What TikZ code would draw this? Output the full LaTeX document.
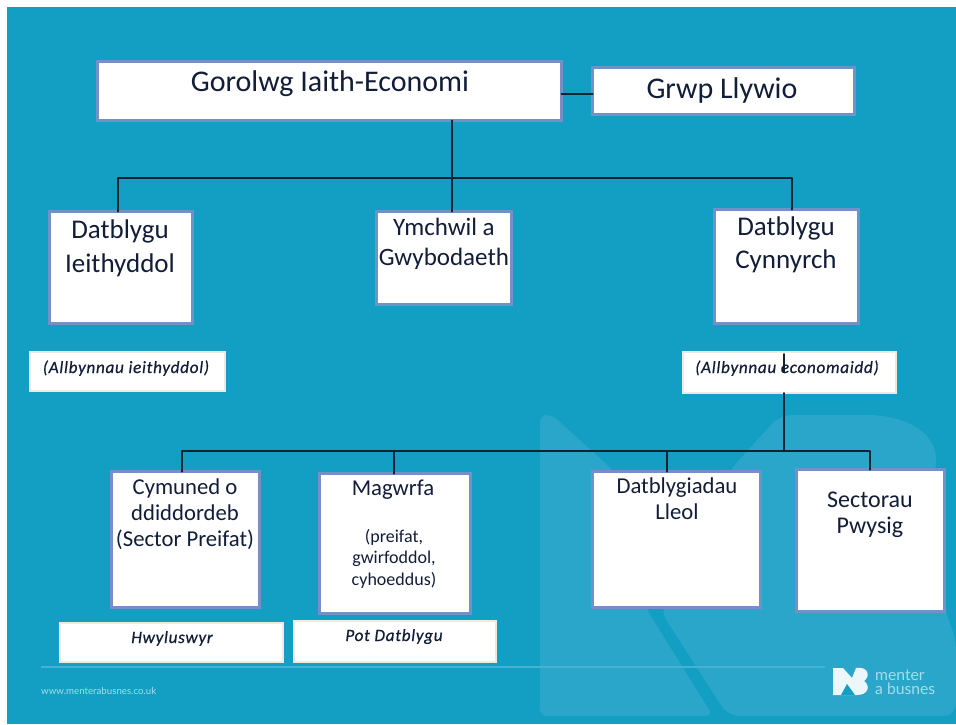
\documentclass[tikz,border=0pt]{standalone}
\usepackage{fontspec}
\setmainfont{Carlito}
\newfontfamily\footfont{Lato}
\definecolor{bgblue}{HTML}{129FC3}
\definecolor{wmark}{HTML}{29A6C9}
\definecolor{rule}{HTML}{45B2D1}
\definecolor{edgeblue}{HTML}{7490C8}
\definecolor{ink}{HTML}{121D38}
\definecolor{conn}{HTML}{0B2632}
\definecolor{cream}{HTML}{EFEADC}
\definecolor{foot}{HTML}{A9DCEA}
\tikzset{
  bluebox/.style={draw=edgeblue,line width=3.4pt,fill=white,inner sep=0pt,outer sep=0pt},
  creambox/.style={draw=cream,line width=2.5pt,fill=white,inner sep=0pt,outer sep=0pt},
  lineconn/.style={draw=conn,line width=2pt,line cap=round,line join=round},
  bigtext/.style={text=ink,inner sep=0pt,align=center,anchor=base,font=\fontsize{30}{33}\selectfont},
  midtext/.style={text=ink,inner sep=0pt,align=center,anchor=base,font=\fontsize{25}{30}\selectfont},
  smalltext/.style={text=ink,inner sep=0pt,align=center,anchor=base,font=\fontsize{22.7}{26}\selectfont},
  tinytext/.style={text=ink,inner sep=0pt,align=center,anchor=base,font=\fontsize{18}{21.5}\selectfont},
  notetext/.style={text=ink,inner sep=0pt,anchor=base,font=\fontsize{17.2}{20}\selectfont\itshape\addfontfeature{LetterSpace=4,FakeBold=0.5}},
  foottext/.style={text=foot,inner sep=0pt,anchor=base west},
}
\newcommand{\boxat}[6]{%
  \pgfmathsetmacro{\bw}{#4-#2}\pgfmathsetmacro{\bh}{#5-#3}%
  \pgfmathsetmacro{\bcx}{(#4+#2)/2}\pgfmathsetmacro{\bcy}{(#5+#3)/2}%
  \node[#6,minimum width=\bw pt,minimum height=\bh pt] (#1) at (\bcx,\bcy) {};}
\begin{document}
\begin{tikzpicture}[x=1pt,y=-1pt]
\useasboundingbox (0,0) rectangle (956,724);
\fill[white] (0,0) rectangle (956,724);
\fill[bgblue] (7,7) rectangle (956,724);
% watermark
\fill[wmark,rounded corners=7pt] (540,716) -- (540,415) -- (552,415) -- (613,470) -- (647,610) -- (713,716) -- cycle;
\fill[wmark,rounded corners=12pt] (660,610) -- (730,470) -- (780,415) -- (880,415) .. controls (925,425) and (936,445) .. (936,470) -- (920,540) -- (956,640) -- (956,716) -- (728,716) -- cycle;
% footer
\draw[rule,line width=1.6pt] (41,667) -- (825,667);
\node[foottext,font=\footfont\fontsize{9.7}{10}\selectfont] (url) at (41,694) {www.menterabusnes.co.uk};
\fill[white!92!bgblue] (833,668) -- (843,668) -- (852,678) -- (856,668) .. controls (868,666) and (871,676) .. (864,681) .. controls (871,686) and (868,695) .. (857,695) -- (833,695) -- cycle;
\fill[bgblue] (841,695) -- (847,684) -- (855,695) -- cycle;
\node[foottext,align=left,font=\footfont\fontsize{15.7}{14}\selectfont] (mb) at (875,694) {menter\\a busnes};
% boxes
\boxat{main}{97.5}{61.5}{561.5}{120.5}{bluebox}
\boxat{grwp}{592.5}{67.5}{854.5}{114.5}{bluebox}
\boxat{datI}{49.5}{211.5}{192.5}{323.5}{bluebox}
\boxat{ymch}{376.5}{211.5}{511.5}{304.5}{bluebox}
\boxat{datC}{714.5}{209.5}{858.5}{323.5}{bluebox}
\boxat{noteI}{30}{352}{225}{391}{creambox}
\boxat{noteE}{683}{352}{896}{393}{creambox}
\boxat{cymu}{111.5}{471.5}{259.5}{607.5}{bluebox}
\boxat{magw}{319.5}{473.5}{470.5}{613.5}{bluebox}
\boxat{datL}{592.5}{471.5}{760.5}{607.5}{bluebox}
\boxat{sect}{796.5}{469.5}{944.5}{611.5}{bluebox}
\boxat{hwyl}{60}{623}{283}{662}{creambox}
\boxat{potd}{294}{621}{496}{662}{creambox}
% connectors
\coordinate (toprow) at (452,178);
\coordinate (t1) at (118,178);
\coordinate (t3) at (792,178);
\coordinate (sidel) at (0,94);
\coordinate (low) at (784,451);
\coordinate (l1) at (182,451);
\coordinate (l2) at (394,451);
\coordinate (l3) at (667,451);
\coordinate (l4) at (870,451);
\coordinate (tick) at (784,372);
\draw[lineconn] (main.east |- sidel) -- (grwp.west |- sidel);
\draw[lineconn] (main.south -| toprow) -- (ymch.north -| toprow);
\draw[lineconn] (datI.north -| t1) -- (t1) -- (t3) -- (datC.north -| t3);
\draw[lineconn] (noteE.south -| low) -- (low);
\draw[lineconn] (noteE.north -| tick) ++(0,2) -- (tick);
\draw[lineconn] (cymu.north -| l1) -- (l1) -- (l4) -- (sect.north -| l4);
\draw[lineconn] (magw.north -| l2) -- (l2);
\draw[lineconn] (datL.north -| l3) -- (l3);
% labels
\node[bigtext] (tMain) at (330,91) {Gorolwg Iaith-Economi};
\node[bigtext] (tGrwp) at (722,98) {Grwp Llywio};
\node[bigtext,font=\fontsize{27}{34}\selectfont] (tDatI) at (120,272) {Datblygu\\Ieithyddol};
\node[midtext] (tYmch) at (444,265) {Ymchwil a\\Gwybodaeth};
\node[bigtext,font=\fontsize{27}{33}\selectfont] (tDatC) at (786,268) {Datblygu\\Cynnyrch};
\node[smalltext] (tCymu) at (185,546) {Cymuned o\\ddiddordeb\\(Sector Preifat)};
\node[smalltext] (tMagw) at (393,495) {Magwrfa};
\node[tinytext] (tMagx) at (394,585) {(preifat,\\gwirfoddol,\\cyhoeddus)};
\node[smalltext] (tDatL) at (677,519) {Datblygiadau\\Lleol};
\node[smalltext,font=\fontsize{24}{26}\selectfont] (tSect) at (870,533) {Sectorau\\Pwysig};
\node[notetext] (tNoteI) at (126,373) {(Allbynnau ieithyddol)};
\node[notetext] (tNoteE) at (787,373) {(Allbynnau economaidd)};
\node[notetext] (tHwyl) at (172,643) {Hwyluswyr};
\node[notetext] (tPotd) at (394,641) {Pot Datblygu};
\end{tikzpicture}
\end{document}
